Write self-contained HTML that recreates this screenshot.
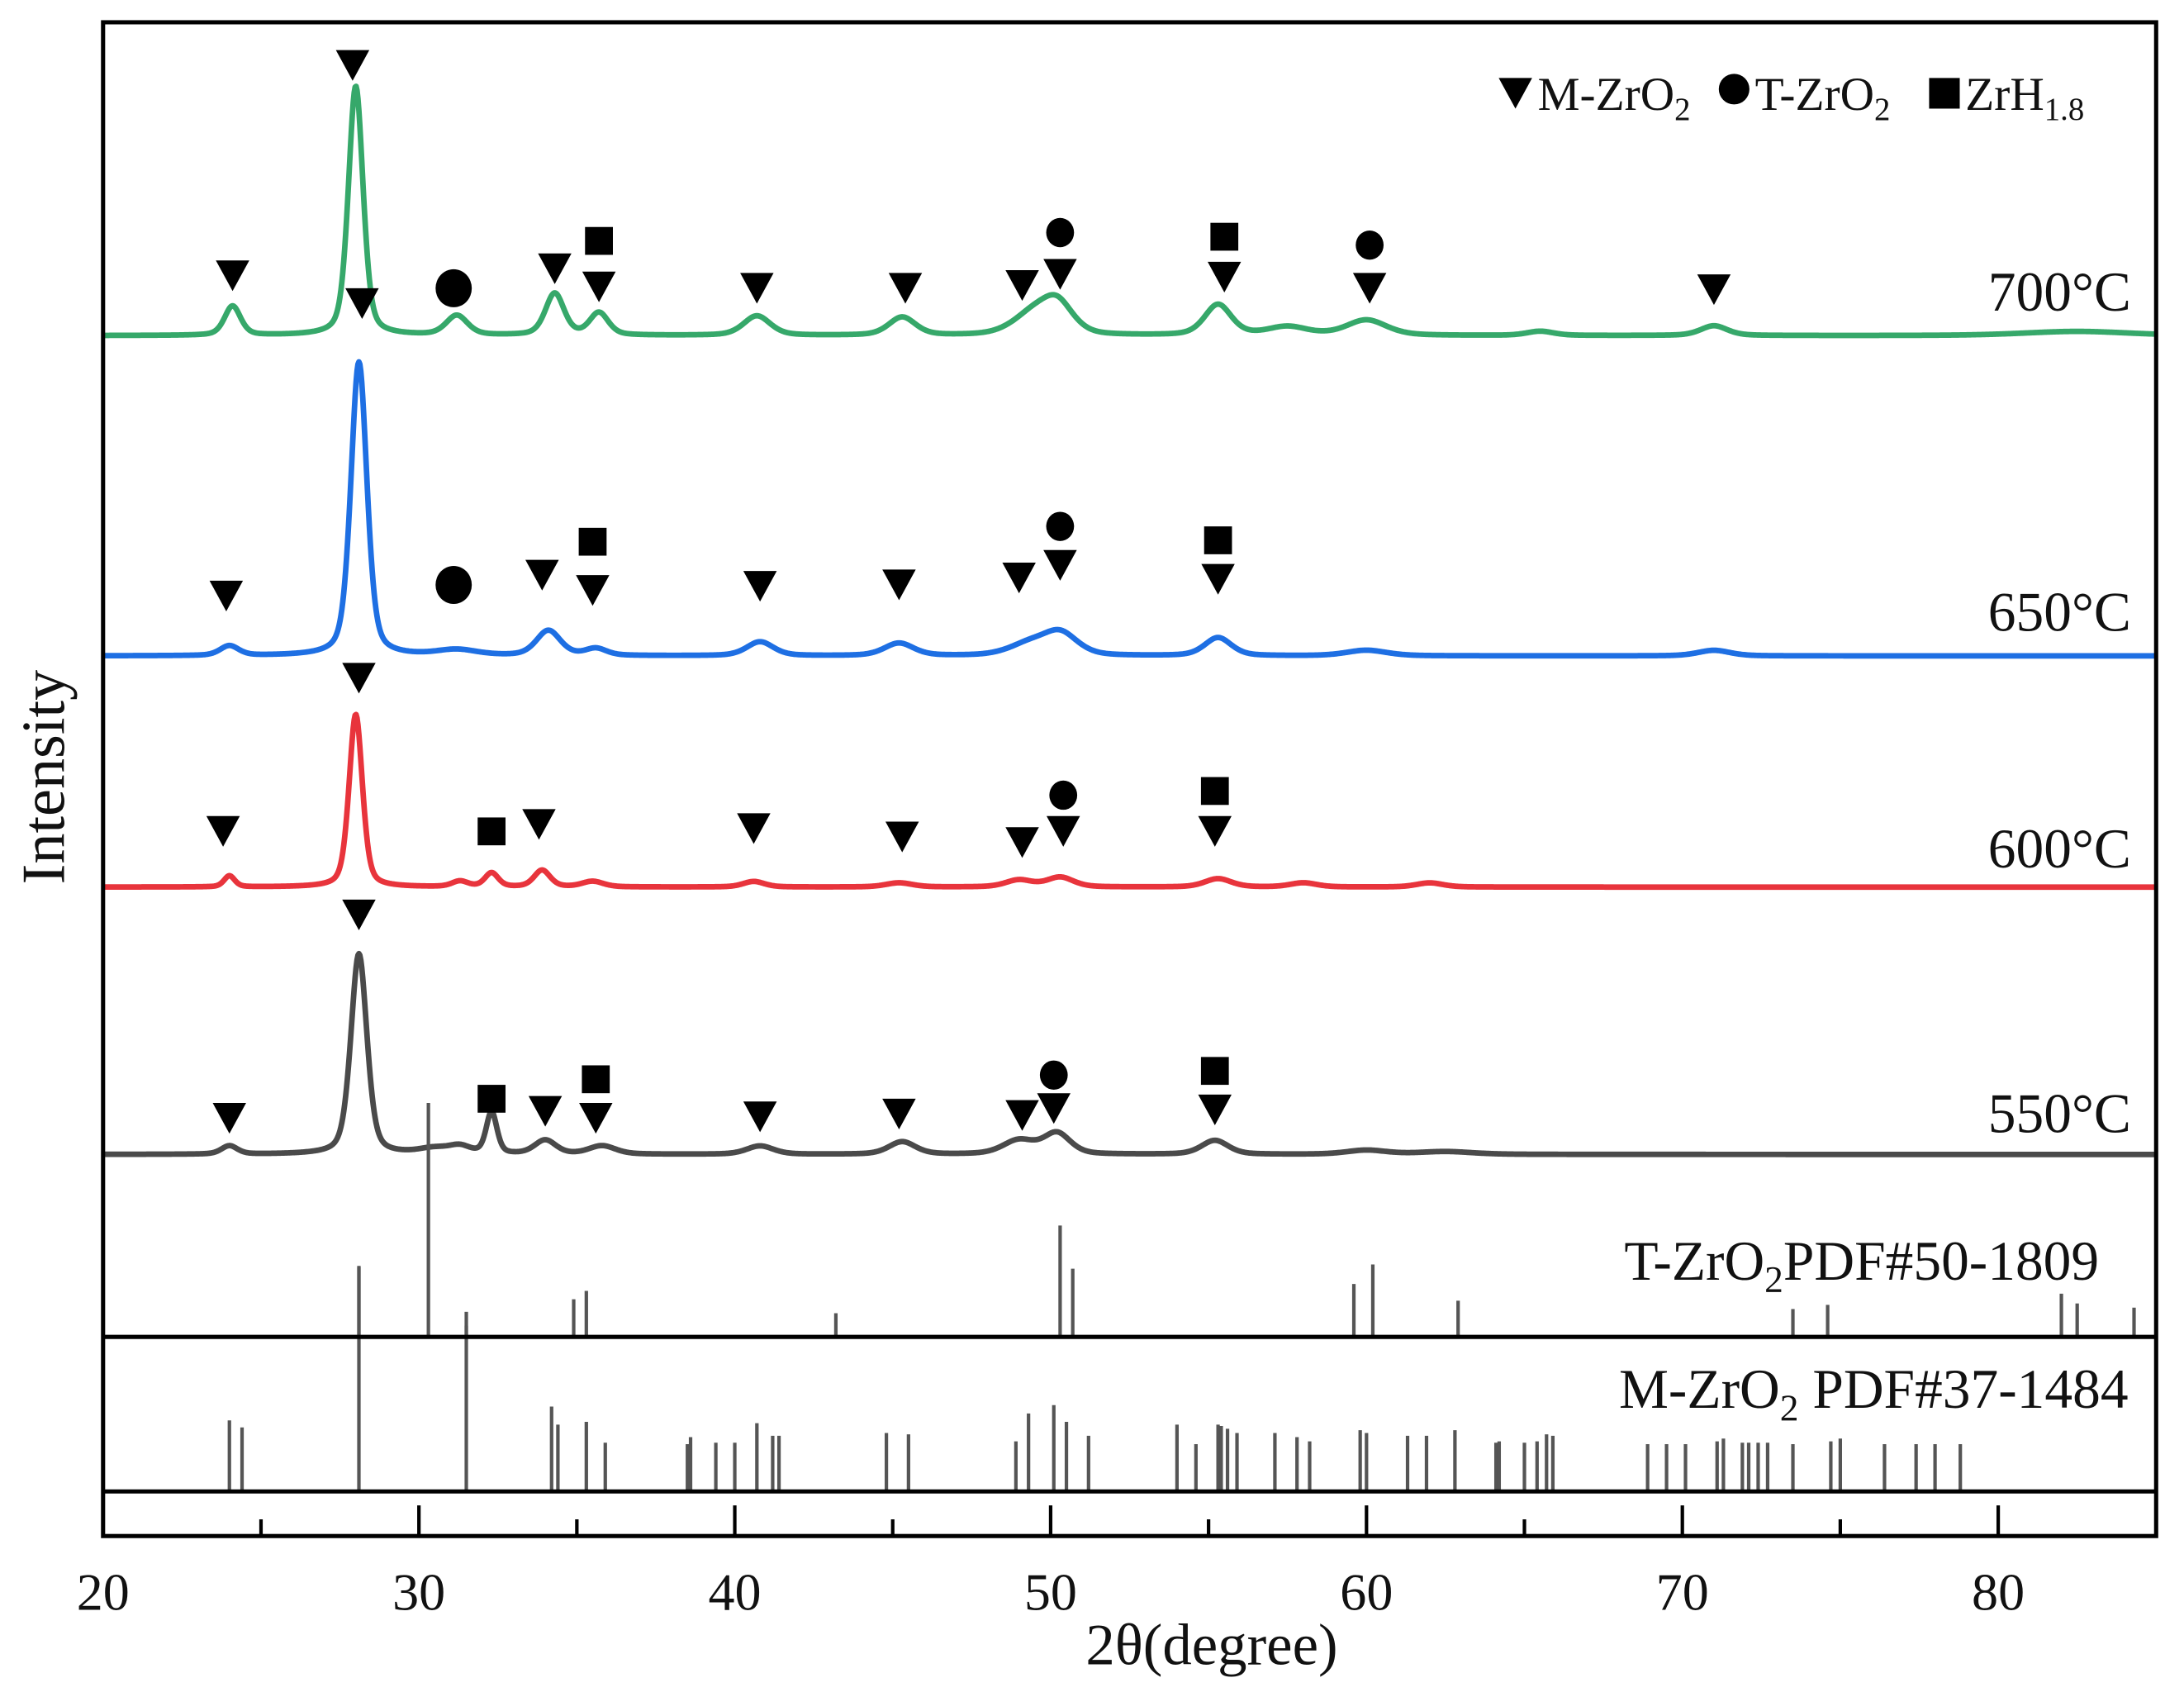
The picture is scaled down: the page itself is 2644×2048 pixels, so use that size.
<!DOCTYPE html>
<html><head><meta charset="utf-8">
<style>
html,body{margin:0;padding:0;background:#fff;}
svg{display:block;}
text{font-family:"Liberation Serif",serif;fill:#111;}
</style></head>
<body>
<svg id="chart" xmlns="http://www.w3.org/2000/svg" width="2644" height="2048" viewBox="0 0 1568 1215" preserveAspectRatio="none">
<g id="curves"></g>
<g id="sticks"></g>
<g id="markers"></g>
<g id="frame">
  <rect x="74" y="16" width="1474" height="1087" fill="none" stroke="#000" stroke-width="3"/>
  <line x1="74" y1="960" x2="1548" y2="960" stroke="#000" stroke-width="3"/>
  <line x1="74" y1="1071" x2="1548" y2="1071" stroke="#000" stroke-width="3"/>
</g>
<g id="xaxis"></g>
<text x="870" y="1195" font-size="42" text-anchor="middle">2θ(degree)</text>
<text transform="translate(46,558) rotate(-90)" font-size="44" text-anchor="middle">Intensity</text>
<g font-size="40" text-anchor="end">
  <text x="1530" y="223">700°C</text>
  <text x="1530" y="453">650°C</text>
  <text x="1530" y="623">600°C</text>
  <text x="1530" y="813">550°C</text>
  <text x="1507" y="919">T-ZrO<tspan font-size="27" dy="9">2</tspan><tspan dy="-9">PDF#50-1809</tspan></text>
  <text x="1528" y="1011">M-ZrO<tspan font-size="27" dy="9">2</tspan><tspan dy="-9"> PDF#37-1484</tspan></text>
</g>
<g id="legend" font-size="34">
  <polygon points="1076,56 1100,56 1088,78" fill="#000"/>
  <text x="1104" y="79">M-ZrO<tspan font-size="23" dy="7">2</tspan></text>
  <circle cx="1245" cy="64" r="11" fill="#000"/>
  <text x="1260" y="79">T-ZrO<tspan font-size="23" dy="7">2</tspan></text>
  <rect x="1385" y="56" width="22" height="22" fill="#000"/>
  <text x="1411" y="79">ZrH<tspan font-size="23" dy="7">1.8</tspan></text>
</g>
</svg>
<script>
// ---- data ----
const xTicks = [20,30,40,50,60,70,80];
const minorTicks = [25,35,45,55,65,75,85];
// peaks: [2theta, height, fwhm]
const peaks700 = [[24.1,21,0.6],[28.0,179,0.55],[31.2,14,0.8],[34.3,30,0.7],[35.7,16,0.7],[40.7,14,1.0],[45.3,13,1.0],[49.4,14,1.5],[50.2,22,1.2],[55.3,22,1.0],[57.5,6,1.5],[60.0,11,1.5],[65.5,3,1.0],[71.0,7,1.0],[82.5,3,4]];
const peaks650 = [[24.0,7,0.7],[28.1,211,0.6],[31.2,4,1.5],[34.1,18,0.9],[35.6,5,0.8],[40.8,10,1.0],[45.2,9,1.1],[49.3,8,1.5],[50.3,16,1.3],[55.3,13,1.0],[60.0,4,1.5],[71.0,4,1.2]];
const peaks600 = [[24.0,8,0.4],[28.0,124,0.5],[31.3,4,0.6],[32.3,10,0.5],[33.9,12,0.6],[35.5,4,0.8],[40.6,4,0.8],[45.2,3,1.0],[49.0,5,1.0],[50.3,7,1.0],[55.3,6,1.0],[58.0,3,1.0],[62.0,3,1.0]];
const peaks550 = [[24.0,6,0.6],[28.1,144,0.6],[30.5,4,1.2],[31.3,5,0.8],[32.3,30,0.4],[34.0,10,0.8],[35.8,6,1.0],[40.8,6,1.0],[45.3,9,1.0],[49.0,10,1.2],[50.2,15,1.0],[55.2,10,1.0],[60.0,3,1.5],[62.5,2,2]];
const baselines = [241,471,637,829];
const seriesNames = ['curve-700c','curve-650c','curve-600c','curve-550c'];
const seriesColors = ['#36a86a','#1e6fe3','#e8343c','#4a4a4a'];
const tPos = [28.1,30.3,31.5,34.9,35.3,43.2,50.3,50.7,59.6,60.2,62.9,73.5,74.6,82.0,82.5,84.3,85.0];
const tHgt = [51,168,18,27,33,17,80,49,38,52,26,20,23,31,24,21,20];
const mPos = [24.0,24.4,28.1,31.5,34.2,34.4,35.3,35.9,38.5,38.6,39.4,40.0,40.7,41.2,41.4,44.8,45.5,48.9,49.3,50.1,50.5,51.2,54.0,54.6,55.3,55.4,55.6,55.9,57.1,57.8,58.2,59.8,60.0,61.3,61.9,62.8,64.1,64.2,65.0,65.4,65.7,65.9,68.9,69.5,70.1,71.1,71.3,71.9,72.1,72.4,72.7,73.5,74.7,75.0,76.4,77.4,78.0,78.8];
const mHgt = [51,46,161,119,61,48,50,35,34,39,35,35,49,40,40,42,41,36,56,62,50,40,48,34,48,47,45,42,42,39,36,44,42,40,40,44,35,36,35,36,41,40,34,34,34,36,38,35,35,35,35,34,36,38,34,34,34,34];
// markers: [type, 2theta, y]
const markerList = [
 ['t',24.1,198],['t',27.9,47],['t',28.2,218],['c',31.1,207,13],['t',34.3,193],['s',35.7,173],['t',35.7,206],['t',40.7,207],['t',45.4,207],['t',49.1,205],['c',50.3,167,10],['t',50.3,197],['s',55.5,170],['t',55.5,199],['c',60.1,176,10],['t',60.1,207],['t',71.0,208],
 ['t',23.9,428],['c',31.1,420,13],['t',33.9,413],['s',35.5,389],['t',35.5,424],['t',40.8,421],['t',45.2,420],['t',49.0,415],['c',50.3,378,10],['t',50.3,406],['s',55.3,388],['t',55.3,416],
 ['t',23.8,597],['t',28.1,487],['s',32.3,597],['t',33.8,592],['t',40.6,595],['t',45.3,601],['t',49.1,605],['c',50.4,571,10],['t',50.4,597],['s',55.2,568],['t',55.2,597],
 ['t',28.1,657],['t',24.0,803],['s',32.3,789],['t',34.0,798],['s',35.6,775],['t',35.6,803],['t',40.8,802],['t',45.2,800],['t',49.1,801],['c',50.1,772,10],['t',50.1,796],['s',55.2,769],['t',55.2,797]
];
// ---- axis functions ----
const X0=20, X1=85, PX0=74, PX1=1548;
function xs(v){return PX0+(v-X0)/(X1-X0)*(PX1-PX0);}
function ys(base,v){return base-v;}
const NS='http://www.w3.org/2000/svg';
function mk(tag,parent){const e=document.createElementNS(NS,tag);parent.appendChild(e);return e;}
function profile(pk,x){let s=0;for(const [c,h,w] of pk){const d=(x-c)/(w/2);s+=h*(0.6*Math.exp(-0.693*d*d)+0.4/(1+d*d));}return s;}
// curves
const cg=document.getElementById('curves');
[peaks700,peaks650,peaks600,peaks550].forEach((pk,i)=>{
  let d='';
  for(let x=X0;x<=X1+1e-9;x+=0.03){d+=(d?'L':'M')+xs(x).toFixed(2)+','+ys(baselines[i],profile(pk,x)).toFixed(2);}
  const p=mk('path',cg);
  p.setAttribute('d',d);p.setAttribute('fill','none');p.setAttribute('stroke',seriesColors[i]);p.setAttribute('stroke-width','4');p.setAttribute('stroke-linejoin','round');
  
  
});
// sticks
const sg=document.getElementById('sticks');
tPos.forEach((v,i)=>{const l=mk('line',sg);l.setAttribute('x1',xs(v));l.setAttribute('x2',xs(v));l.setAttribute('y1',960);l.setAttribute('y2',960-tHgt[i]);l.setAttribute('stroke','#555');l.setAttribute('stroke-width','2.5');
  
  });
mPos.forEach((v,i)=>{const l=mk('line',sg);l.setAttribute('x1',xs(v));l.setAttribute('x2',xs(v));l.setAttribute('y1',1071);l.setAttribute('y2',1071-mHgt[i]);l.setAttribute('stroke','#555');l.setAttribute('stroke-width','2.5');
  
  });
// markers
const mg=document.getElementById('markers');
markerList.forEach(m=>{
  const cx=xs(m[1]), cy=m[2]; let e;
  if(m[0]==='t'){e=mk('polygon',mg);e.setAttribute('points',`${cx-12},${cy-11} ${cx+12},${cy-11} ${cx},${cy+11}`);}
  else if(m[0]==='c'){e=mk('ellipse',mg);e.setAttribute('cx',cx);e.setAttribute('cy',cy);e.setAttribute('rx',m[3]);e.setAttribute('ry',m[3]*1.05);}
  else {e=mk('rect',mg);e.setAttribute('x',cx-10);e.setAttribute('y',cy-10);e.setAttribute('width',20);e.setAttribute('height',20);}
  e.setAttribute('fill','#000');
  
  
});
// x axis
const xg=document.getElementById('xaxis');
xTicks.forEach(v=>{
  const l=mk('line',xg);l.setAttribute('x1',xs(v));l.setAttribute('x2',xs(v));l.setAttribute('y1',1103);l.setAttribute('y2',1081);l.setAttribute('stroke','#000');l.setAttribute('stroke-width','2.5');
  
  
  const t=mk('text',xg);t.setAttribute('x',xs(v));t.setAttribute('y',1156);t.setAttribute('font-size','38');t.setAttribute('text-anchor','middle');t.textContent=v;
  
  
});
minorTicks.forEach(v=>{
  const l=mk('line',xg);l.setAttribute('x1',xs(v));l.setAttribute('x2',xs(v));l.setAttribute('y1',1103);l.setAttribute('y2',1091);l.setAttribute('stroke','#000');l.setAttribute('stroke-width','2.5');
  
  
});
</script>
</body></html>
